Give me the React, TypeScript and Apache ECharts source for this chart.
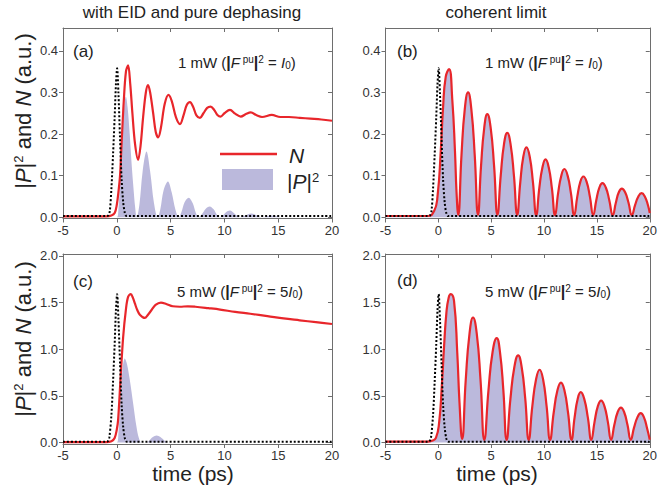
import React, { useEffect, useRef } from "react";
import * as echarts from "echarts";

// ---------- data (time in ps, value in a.u.) ----------
const xTicks = [-5, 0, 5, 10, 15, 20];
const yTicksTop = [0, 0.1, 0.2, 0.3, 0.4];
const yTicksBottom = [0, 0.5, 1.0, 1.5, 2.0];

const pump1mW: number[][] = [
  [-5, 0.003], [-1.0, 0.003], [-0.8, 0.004], [-0.65, 0.015], [-0.5, 0.07], [-0.35, 0.15],
  [-0.2, 0.24], [-0.08, 0.32], [0.03, 0.358], [0.15, 0.3], [0.3, 0.19], [0.45, 0.09],
  [0.6, 0.035], [0.75, 0.01], [0.9, 0.003], [1.1, 0.003], [20, 0.003],
];

const pump5mW: number[][] = [
  [-5, 0.008], [-1.0, 0.008], [-0.85, 0.012], [-0.7, 0.05], [-0.5, 0.3], [-0.35, 0.65],
  [-0.2, 1.05], [-0.08, 1.42], [0.03, 1.59], [0.15, 1.33], [0.3, 0.85], [0.45, 0.4],
  [0.6, 0.16], [0.75, 0.045], [0.9, 0.01], [1.1, 0.008], [20, 0.008],
];

// (a) with EID, 1 mW
const nEid1mW: number[][] = [
  [-5, 0.002], [-1, 0.002], [-0.5, 0.004], [-0.2, 0.01], [0, 0.03], [0.15, 0.06], [0.3, 0.1],
  [0.45, 0.18], [0.65, 0.28], [0.85, 0.35], [1.05, 0.365], [1.25, 0.32], [1.45, 0.25],
  [1.7, 0.175], [1.98, 0.138], [2.2, 0.17], [2.45, 0.242], [2.7, 0.3], [2.9, 0.318],
  [3.1, 0.3], [3.38, 0.25], [3.62, 0.205], [3.85, 0.192], [4.1, 0.215], [4.45, 0.272],
  [4.8, 0.294], [5.1, 0.28], [5.5, 0.24], [5.87, 0.224], [6.2, 0.245], [6.5, 0.27],
  [6.8, 0.277], [7.1, 0.265], [7.4, 0.245], [7.73, 0.239], [8.05, 0.25], [8.4, 0.263],
  [8.72, 0.266], [9.05, 0.258], [9.35, 0.246], [9.65, 0.242], [10.0, 0.25], [10.52, 0.258],
  [11.0, 0.249], [11.52, 0.242], [12.0, 0.248], [12.45, 0.252], [13.0, 0.245], [13.5, 0.241],
  [14.4, 0.246], [15.2, 0.241], [16, 0.241], [17, 0.239], [18, 0.237], [19, 0.235], [20, 0.232],
];

const p2Eid1mW: number[][] = [
  [-5, 0], [0, 0], [0.15, 0.02], [0.3, 0.08], [0.5, 0.19], [0.7, 0.27], [0.84, 0.29],
  [1.0, 0.265], [1.2, 0.2], [1.4, 0.12], [1.55, 0.07], [1.7, 0.025], [1.85, 0],
  [2.1, 0.03], [2.4, 0.11], [2.76, 0.158], [3.1, 0.11], [3.45, 0.035], [3.8, 0],
  [4.05, 0.02], [4.35, 0.065], [4.75, 0.086], [5.1, 0.06], [5.45, 0.018], [5.75, 0],
  [6.0, 0.012], [6.3, 0.036], [6.68, 0.047], [7.05, 0.034], [7.35, 0.01], [7.6, 0],
  [7.9, 0.007], [8.25, 0.02], [8.63, 0.026], [9.0, 0.019], [9.3, 0.006], [9.55, 0],
  [9.85, 0.004], [10.15, 0.012], [10.52, 0.016], [10.85, 0.011], [11.2, 0.003], [11.45, 0],
  [11.8, 0.003], [12.52, 0.009], [13.2, 0.002], [13.45, 0], [14.4, 0.004], [15.3, 0], [20, 0],
];

// (b) coherent limit, 1 mW  (N and |P|^2 coincide)
const coherent1mW: number[][] = [
  [-5, 0.003], [-1, 0.003], [-0.4, 0.015], [-0.08, 0.05], [0.23, 0.16], [0.45, 0.266],
  [0.7, 0.338], [1.01, 0.356], [1.32, 0.282], [1.57, 0.16], [1.72, 0.06], [1.88, 0.006],
  [2.19, 0.15], [2.5, 0.26], [2.81, 0.3], [3.12, 0.26], [3.44, 0.15], [3.75, 0.006],
  [4.04, 0.124], [4.34, 0.215], [4.63, 0.248], [4.95, 0.215], [5.27, 0.124], [5.59, 0.006],
  [5.9, 0.1], [6.21, 0.176], [6.52, 0.203], [6.83, 0.176], [7.15, 0.1], [7.46, 0.006],
  [7.75, 0.084], [8.04, 0.146], [8.33, 0.168], [8.64, 0.146], [8.95, 0.084], [9.26, 0.005],
  [9.55, 0.07], [9.85, 0.12], [10.14, 0.139], [10.44, 0.12], [10.74, 0.07], [11.04, 0.005],
  [11.33, 0.058], [11.63, 0.1], [11.92, 0.116], [12.23, 0.1], [12.54, 0.058], [12.85, 0.005],
  [13.14, 0.049], [13.43, 0.085], [13.72, 0.098], [14.03, 0.085], [14.34, 0.049], [14.65, 0.005],
  [14.94, 0.041], [15.23, 0.071], [15.52, 0.082], [15.85, 0.071], [16.17, 0.041], [16.5, 0.005],
  [16.79, 0.035], [17.07, 0.06], [17.36, 0.069], [17.67, 0.06], [17.99, 0.035], [18.3, 0.005],
  [18.61, 0.029], [18.92, 0.05], [19.23, 0.058], [19.53, 0.05], [19.83, 0.029], [20, 0.01],
];

// (c) with EID, 5 mW
const nEid5mW: number[][] = [
  [-5, 0.005], [-1, 0.005], [-0.5, 0.015], [-0.2, 0.05], [0, 0.14], [0.12, 0.24], [0.34, 0.67],
  [0.59, 1.13], [0.84, 1.42], [1.05, 1.56], [1.3, 1.59], [1.5, 1.55], [1.68, 1.49], [1.9, 1.42],
  [2.14, 1.37], [2.6, 1.335], [2.9, 1.37], [3.23, 1.42], [3.6, 1.475], [4.1, 1.5], [4.6, 1.485],
  [5.2, 1.46], [5.87, 1.455], [6.6, 1.46], [7.3, 1.455], [8.5, 1.44], [9.6, 1.425], [11, 1.4],
  [12.4, 1.38], [14, 1.355], [15.5, 1.33], [17, 1.31], [18.5, 1.29], [20, 1.27],
];

const p2Eid5mW: number[][] = [
  [-5, 0], [0, 0], [0.15, 0.1], [0.28, 0.35], [0.53, 0.78], [0.74, 0.9], [0.95, 0.84],
  [1.21, 0.67], [1.52, 0.42], [1.83, 0.17], [2.05, 0.05], [2.3, 0], [2.75, 0], [3.0, 0.02],
  [3.35, 0.06], [3.7, 0.077], [4.05, 0.06], [4.45, 0.02], [4.8, 0], [20, 0],
];

// (d) coherent limit, 5 mW
const coherent5mW: number[][] = [
  [-5, 0.01], [-1, 0.01], [-0.6, 0.02], [-0.23, 0.05], [0.07, 0.21], [0.33, 0.61], [0.54, 1.03],
  [0.76, 1.39], [0.97, 1.55], [1.17, 1.59], [1.48, 1.52], [1.79, 0.96], [2.0, 0.43], [2.25, 0.04],
  [2.59, 0.67], [2.94, 1.16], [3.28, 1.34], [3.64, 1.16], [3.99, 0.67], [4.35, 0.03],
  [4.74, 0.56], [5.13, 0.97], [5.52, 1.12], [5.83, 0.97], [6.15, 0.56], [6.46, 0.03],
  [6.82, 0.47], [7.19, 0.81], [7.55, 0.935], [7.88, 0.81], [8.22, 0.47], [8.55, 0.03],
  [8.89, 0.39], [9.24, 0.675], [9.58, 0.78], [9.91, 0.675], [10.24, 0.39], [10.57, 0.03],
  [10.91, 0.32], [11.26, 0.557], [11.6, 0.643], [11.93, 0.557], [12.27, 0.32], [12.6, 0.03],
  [12.89, 0.27], [13.18, 0.468], [13.47, 0.54], [13.8, 0.468], [14.14, 0.27], [14.47, 0.03],
  [14.78, 0.225], [15.09, 0.39], [15.4, 0.45], [15.71, 0.39], [16.03, 0.225], [16.34, 0.03],
  [16.65, 0.19], [16.96, 0.325], [17.27, 0.375], [17.58, 0.325], [17.89, 0.19], [18.2, 0.03],
  [18.51, 0.16], [18.83, 0.27], [19.14, 0.315], [19.45, 0.27], [19.75, 0.15], [20, 0.03],
];

const panelLabels = ["(a)", "(b)", "(c)", "(d)"];
const columnTitles = ["with EID and pure dephasing", "coherent limit"];

// ---------- styling ----------
const FONT = '"Liberation Sans", Arial, Helvetica, sans-serif';
const RED = "#e8262b";
const LAV = "#bbb9dc";
const AXIS = "#6e6e6e";
const TXT = "#333";

export default function App() {
  const ref = useRef<HTMLDivElement>(null);

  useEffect(() => {
    if (!ref.current) return;
    const chart = echarts.init(ref.current, undefined, { renderer: "svg" });

    const grids = [
      { left: 63, top: 28, width: 269, height: 190.5 },
      { left: 385.5, top: 28, width: 268, height: 190.5 },
      { left: 63, top: 254, width: 269, height: 190 },
      { left: 385.5, top: 254, width: 268, height: 190 },
    ];
    const yRanges = [
      [-0.003, 0.455, yTicksTop],
      [-0.003, 0.455, yTicksTop],
      [-0.015, 2.02, yTicksBottom],
      [-0.015, 2.02, yTicksBottom],
    ] as any[];

    const xAxes: any[] = [];
    const yAxes: any[] = [];
    grids.forEach((_, i) => {
      const lineStyle = { color: AXIS, width: 1 };
      xAxes.push({
        gridIndex: i, type: "value", min: -5, max: 20, position: "bottom",
        axisLine: { onZero: false, lineStyle },
        axisTick: { inside: false, length: 4, lineStyle, customValues: xTicks },
        axisLabel: { margin: 5, color: TXT, fontSize: 13, fontFamily: FONT, customValues: xTicks },
        splitLine: { show: false },
      });
      xAxes.push({
        gridIndex: i, type: "value", min: -5, max: 20, position: "top",
        axisLine: { onZero: false, lineStyle },
        axisTick: { inside: true, length: 4, lineStyle, customValues: xTicks },
        axisLabel: { show: false },
        splitLine: { show: false },
      });
      const [mn, mx, ticks] = yRanges[i];
      yAxes.push({
        gridIndex: i, type: "value", min: mn, max: mx, position: "left",
        axisLine: { onZero: false, lineStyle },
        axisTick: { inside: false, length: 4, lineStyle, customValues: ticks },
        axisLabel: {
          margin: 5, color: TXT, fontSize: 13, fontFamily: FONT, customValues: ticks,
          formatter: (v: number) => v.toFixed(1),
        },
        splitLine: { show: false },
      });
      yAxes.push({
        gridIndex: i, type: "value", min: mn, max: mx, position: "right",
        axisLine: { onZero: false, lineStyle },
        axisTick: { inside: true, length: 4, lineStyle, customValues: ticks },
        axisLabel: { show: false },
        splitLine: { show: false },
      });
    });

    const panels = [
      { p2: p2Eid1mW, n: nEid1mW, pump: pump1mW, s: 0.35 },
      { p2: coherent1mW, n: coherent1mW, pump: pump1mW, s: 0.5 },
      { p2: p2Eid5mW, n: nEid5mW, pump: pump5mW, s: 0.35 },
      { p2: coherent5mW, n: coherent5mW, pump: pump5mW, s: 0.5 },
    ];

    const series: any[] = [];
    panels.forEach((p, i) => {
      const ax = { xAxisIndex: 2 * i, yAxisIndex: 2 * i };
      series.push({
        type: "line", ...ax, data: p.p2, smooth: p.s, symbol: "none",
        lineStyle: { width: 0, opacity: 0 }, areaStyle: { color: LAV, opacity: 1 }, z: 1,
      });
      series.push({
        type: "line", ...ax, data: p.n, smooth: p.s, symbol: "none",
        lineStyle: { color: RED, width: 2.2 }, z: 3,
      });
      series.push({
        type: "line", ...ax, data: p.pump, smooth: 0.3, symbol: "none",
        lineStyle: { color: "#000", width: 2, type: [2, 2] }, z: 4,
      });
    });

    const annRich = {
      t: { fontSize: 15, fontFamily: FONT, fill: "#222" },
      b: { fontSize: 16, fontFamily: FONT, fontWeight: "bold", fill: "#222" },
      i: { fontSize: 15, fontFamily: FONT, fontStyle: "italic", fill: "#222" },
      sup: { fontSize: 10, fontFamily: FONT, fill: "#222", verticalAlign: "top" },
      sub: { fontSize: 10, fontFamily: FONT, fill: "#222", verticalAlign: "bottom" },
    };
    const ann = (x: number, y: number, factor: string, pre: string) => ({
      type: "text", x, y,
      style: {
        text: `{t|${pre} mW (}{b||}{i|F}{sup| pu}{b||}{sup|2}{t| = ${factor}}{i|I}{sub|0}{t|)}`,
        rich: annRich, align: "left", verticalAlign: "middle",
      },
    });

    const nameRich = {
      r: { fontSize: 22, fontFamily: FONT, fill: "#222" },
      i: { fontSize: 22, fontFamily: FONT, fontStyle: "italic", fill: "#222" },
      sup: { fontSize: 13, fontFamily: FONT, fill: "#222", verticalAlign: "top" },
    };
    const yName = (y: number) => ({
      type: "text", x: 23, y, rotation: Math.PI / 2,
      style: {
        text: "{r||}{i|P}{r||}{sup|2}{r| and }{i|N}{r| (a.u.)}",
        rich: nameRich, align: "center", verticalAlign: "middle",
      },
    });

    const plain = (x: number, y: number, text: string, size: number, align = "center") => ({
      type: "text", x, y,
      style: { text, fontSize: size, fontFamily: FONT, fill: "#222", align, verticalAlign: "middle" },
    });

    const graphic: any[] = [
      plain(192, 12, columnTitles[0], 17),
      plain(496, 12, columnTitles[1], 17),
      plain(193, 473, "time (ps)", 21),
      plain(497, 473, "time (ps)", 21),
      plain(73, 51, panelLabels[0], 17, "left"),
      plain(397, 51, panelLabels[1], 17, "left"),
      plain(73, 281, panelLabels[2], 17, "left"),
      plain(397, 280, panelLabels[3], 17, "left"),
      ann(178, 62, "", "1"),
      ann(485, 62, "", "1"),
      ann(177, 291, "5", "5"),
      ann(485, 291, "5", "5"),
      yName(111),
      yName(339),
      // legend in (a)
      { type: "line", shape: { x1: 220, y1: 154, x2: 277, y2: 154 }, style: { stroke: RED, lineWidth: 2.5 } },
      {
        type: "text", x: 289, y: 155,
        style: { text: "N", fontSize: 21, fontStyle: "italic", fontFamily: FONT, fill: "#222", align: "left", verticalAlign: "middle" },
      },
      { type: "rect", shape: { x: 222, y: 169, width: 51, height: 21 }, style: { fill: LAV } },
      {
        type: "text", x: 287, y: 181,
        style: {
          text: "{r||}{i|P}{r||}{sup|2}",
          rich: {
            r: { fontSize: 21, fontFamily: FONT, fill: "#222" },
            i: { fontSize: 21, fontFamily: FONT, fontStyle: "italic", fill: "#222" },
            sup: { fontSize: 13, fontFamily: FONT, fill: "#222", verticalAlign: "top" },
          },
          align: "left", verticalAlign: "middle",
        },
      },
    ];

    chart.setOption({
      animation: false,
      backgroundColor: "#fff",
      grid: grids.map((g) => ({ ...g, containLabel: false })),
      xAxis: xAxes,
      yAxis: yAxes,
      series,
      graphic,
    });

    return () => chart.dispose();
  }, []);

  return <div ref={ref} style={{ width: 660, height: 491, position: "absolute", left: 0, top: 0 }} />;
}
